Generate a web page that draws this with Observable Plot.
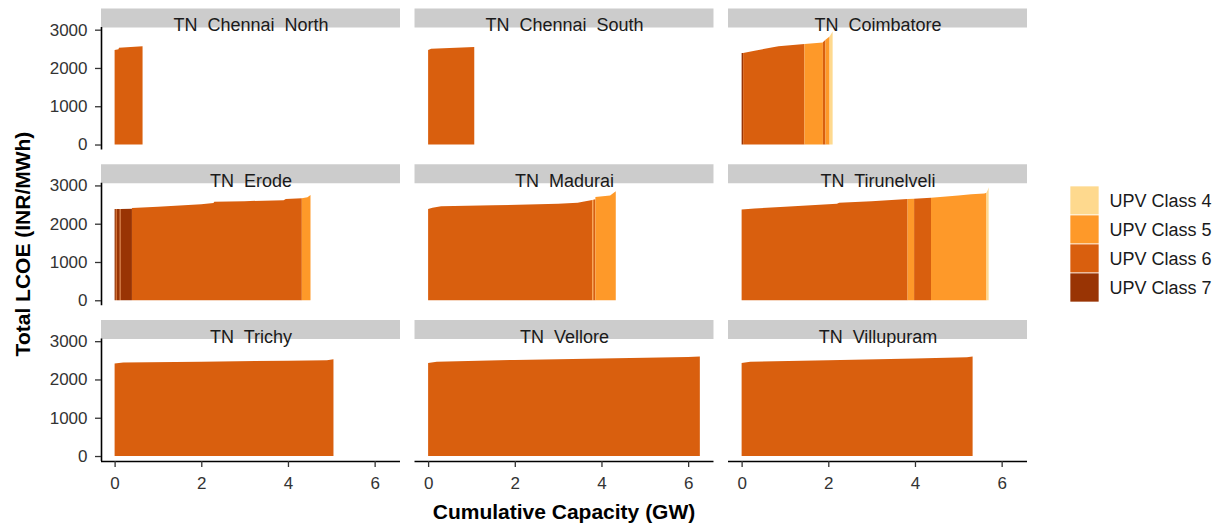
<!DOCTYPE html>
<html>
<head>
<meta charset="utf-8">
<script src="https://cdn.jsdelivr.net/npm/d3@7"></script>
<script src="https://cdn.jsdelivr.net/npm/@observablehq/plot@0.6"></script>
<style>
  body { margin: 0; background: white; }
  #wrap { position: relative; width: 1220px; height: 527px; background: white; font-family: "Liberation Sans", Arial, sans-serif; }
  #wrap svg text { white-space: pre; }
  .abs { position: absolute; }
  .title { font-weight: bold; font-size: 21px; line-height: 1; white-space: nowrap; color: #000; }
</style>
</head>
<body>
<div id="wrap"></div>
<script>
// ---- data ----
const regionNames = ["TN  Chennai  North", "TN  Chennai  South", "TN  Coimbatore",
                     "TN  Erode", "TN  Madurai", "TN  Tirunelveli",
                     "TN  Trichy", "TN  Vellore", "TN  Villupuram"];
const classes = ["UPV Class 4", "UPV Class 5", "UPV Class 6", "UPV Class 7"];
const classColors = ["#fed98e", "#fe9929", "#d95f0e", "#993404"];
const yTicks = [0, 1000, 2000, 3000];
const xTicks = [0, 2, 4, 6];

// supply-curve points: [UPV class, cumulative capacity (GW), total LCOE (INR/MWh)]
const chennaiNorth = [[6,0,2470],[6,0.09,2490],[6,0.1,2530],[6,0.645,2570]];
const chennaiSouth = [[6,0,2470],[6,0.07,2500],[6,1.065,2545]];
const coimbatore = [[7,0,2390],[7,0.035,2392],[6,0.035,2392],[6,0.3,2450],[6,0.66,2530],[6,0.85,2565],[6,1.45,2625],
                    [5,1.45,2625],[5,1.875,2665],[6,1.875,2670],[6,1.935,2740],[5,1.935,2740],[5,2.03,2820],[4,2.03,2820],[4,2.1,2950]];
const erode = [[7,0,2385],[7,0.03,2385],[6,0.03,2385],[6,0.05,2385],[7,0.05,2385],[7,0.12,2385],[6,0.12,2385],[6,0.14,2385],
               [7,0.14,2385],[7,0.40,2390],[6,0.40,2410],[6,1.0,2440],[6,2.0,2510],[6,2.28,2540],[6,2.3,2575],[6,3.0,2590],
               [6,3.9,2615],[6,3.95,2645],[6,4.32,2665],[5,4.32,2665],[5,4.45,2690],[5,4.52,2750]];
const madurai = [[6,0,2385],[6,0.1,2420],[6,0.3,2455],[6,1.5,2480],[6,3.0,2520],[6,3.45,2545],[6,3.6,2580],[6,3.79,2620],
                 [5,3.79,2620],[5,3.81,2625],[6,3.81,2625],[6,3.86,2640],[5,3.86,2700],[5,4.2,2735],[5,4.33,2850]];
const tirunelveli = [[6,0,2370],[6,0.3,2400],[6,1.0,2440],[6,2.2,2520],[6,2.25,2545],[6,3.0,2590],[6,3.83,2645],
                     [5,3.83,2645],[5,3.98,2655],[6,3.98,2655],[6,4.37,2675],[5,4.37,2680],[5,5.0,2740],[5,5.3,2770],
                     [5,5.6,2790],[5,5.65,2810],[4,5.65,2810],[4,5.68,2880],[4,5.70,2950]];
const trichy = [[6,0,2420],[6,0.2,2440],[6,2,2465],[6,4,2490],[6,4.9,2505],[6,5.05,2530]];
const vellore = [[6,0,2430],[6,0.2,2460],[6,2,2510],[6,4,2550],[6,6.0,2585],[6,6.27,2600]];
const villupuram = [[6,0,2430],[6,0.2,2460],[6,2,2500],[6,4,2545],[6,5.2,2580],[6,5.33,2600]];
const curves = [chennaiNorth, chennaiSouth, coimbatore, erode, madurai, tirunelveli, trichy, vellore, villupuram];

// ---- build table ----
const regions = regionNames.map((name, i) => ({name, col: i % 3, row: Math.floor(i / 3)}));
const table = [];
let run = 0;
curves.forEach((pts, i) => {
  let prev = null;
  pts.forEach(([c, x, y]) => {
    if (c !== prev) { run++; prev = c; }
    table.push({region: regionNames[i], col: i % 3, row: Math.floor(i / 3), cls: "UPV Class " + c, run, x, y});
  });
});

const xDomain = [-0.314, 6.585];
const yDomain = [-130, 3070];

const chart = Plot.plot({
  width: 1220, height: 527,
  marginLeft: 101, marginRight: 193, marginTop: 27, marginBottom: 66,
  style: {fontFamily: "'Liberation Sans', Arial, sans-serif", fontSize: "17px", background: "white", overflow: "visible"},
  fx: {domain: [0, 1, 2], axis: null, paddingInner: 0.0463, paddingOuter: 0, round: false},
  fy: {domain: [0, 1, 2], axis: null, paddingInner: 0.2135, paddingOuter: 0, round: false},
  x: {domain: xDomain},
  y: {domain: yDomain},
  color: {domain: classes, range: classColors},
  marks: [
    Plot.area(table, {x1: "x", y1: 0, y2: "y", z: "run", fill: "cls", fx: "col", fy: "row", curve: "linear"}),
    Plot.ruleY([yDomain[1]], {stroke: "#cccccc", strokeWidth: 19, dy: -9.5}),
    Plot.text(regions, {fx: "col", fy: "row", text: "name", frameAnchor: "top", dy: -9, fontSize: 18, fill: "#1a1a1a"}),
    Plot.ruleX([xDomain[0]], {facetAnchor: "left", stroke: "black", strokeWidth: 1.6}),
    Plot.ruleY([yDomain[0]], {facetAnchor: "bottom", stroke: "black", strokeWidth: 1.6}),
    Plot.axisY({ticks: yTicks, tickFormat: d3.format("d"), tickSize: 6, tickPadding: 8, label: null, fontSize: 17, fill: "#333", stroke: "#333", strokeWidth: 1.3}),
    Plot.axisX({ticks: xTicks, tickFormat: d3.format("d"), tickSize: 6, tickPadding: 9, label: null, fontSize: 17, fill: "#333", stroke: "#333", strokeWidth: 1.3})
  ]
});

const wrap = document.getElementById("wrap");
chart.classList.add("abs");
chart.style.left = "0px"; chart.style.top = "0px";
wrap.appendChild(chart);

// legend (drawn with Plot scales)
const legend = Plot.plot({
  width: 150, height: 117,
  marginLeft: 0, marginRight: 121, marginTop: 0, marginBottom: 0,
  style: {fontFamily: "'Liberation Sans', Arial, sans-serif", background: "transparent", overflow: "visible"},
  x: {type: "band", domain: ["key"], axis: null, padding: 0},
  y: {type: "band", domain: classes, axis: null, padding: 0},
  color: {domain: classes, range: classColors},
  marks: [
    Plot.cell(classes, {x: () => "key", y: d => d, fill: d => d, stroke: "white", strokeWidth: 0.7}),
    Plot.text(classes, {x: () => "key", y: d => d, text: d => d, textAnchor: "start", dx: 24.5, fontSize: 18, fill: "#1a1a1a"})
  ]
});
legend.classList.add("abs");
legend.style.left = "1070px"; legend.style.top = "185px";
wrap.appendChild(legend);

// axis titles
const xt = document.createElement("div");
xt.className = "abs title";
xt.textContent = "Cumulative Capacity (GW)";
xt.style.left = "564px"; xt.style.top = "501px"; xt.style.transform = "translateX(-50%)";
wrap.appendChild(xt);

const yt = document.createElement("div");
yt.className = "abs title";
yt.textContent = "Total LCOE (INR/MWh)";
yt.style.left = "22px"; yt.style.top = "244px"; yt.style.transform = "translate(-50%, -50%) rotate(-90deg)";
wrap.appendChild(yt);
</script>
</body>
</html>
